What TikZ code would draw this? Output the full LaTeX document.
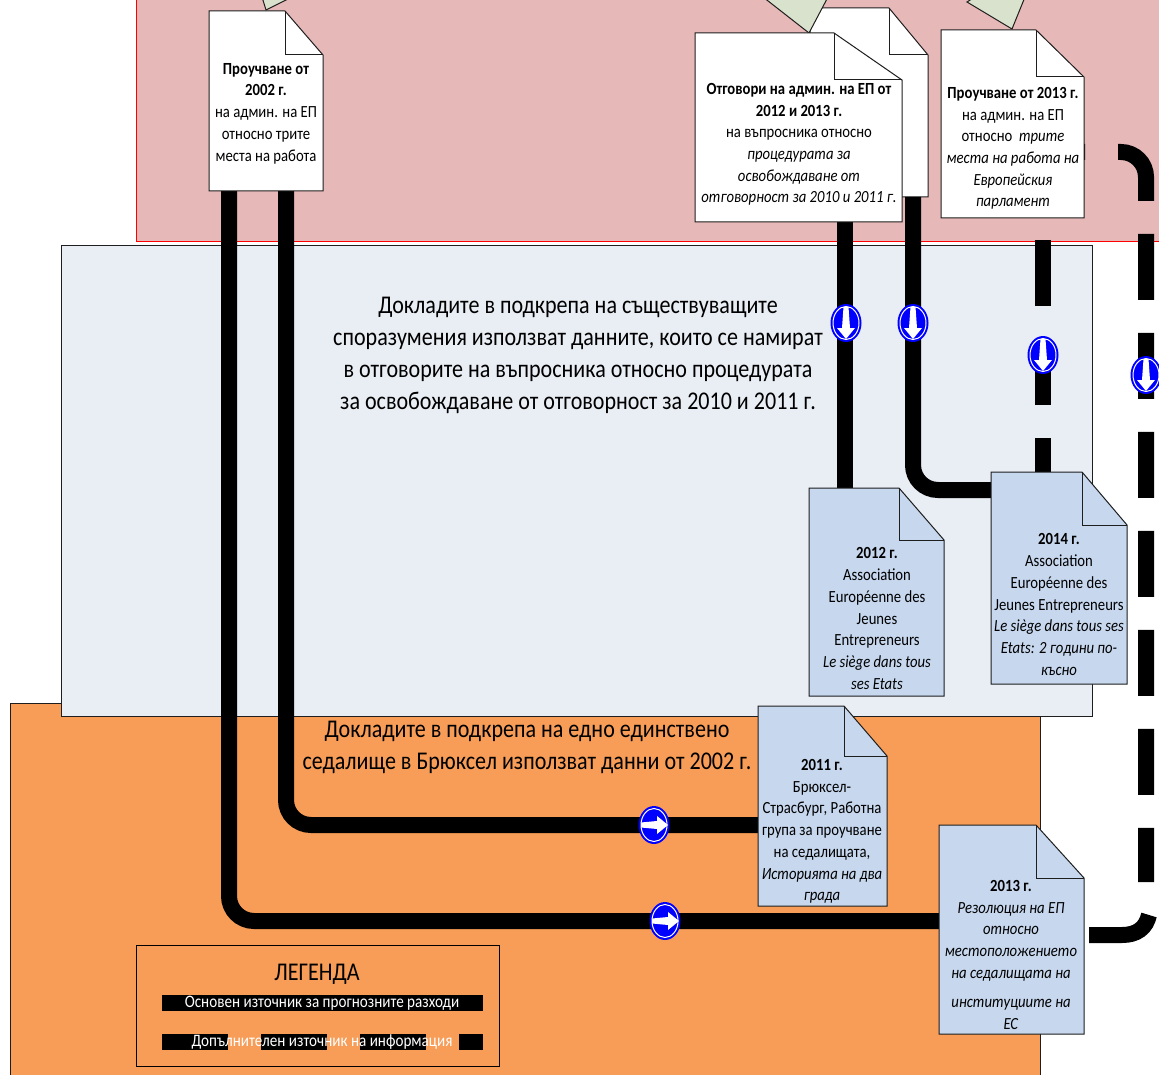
\documentclass[tikz,border=0pt]{standalone}
\usepackage{fontspec}
\setmainfont[FakeStretch=0.865]{Carlito}
\usetikzlibrary{shapes.geometric,calc}
\definecolor{pinkbg}{HTML}{E6B8B7}
\definecolor{bluebg}{HTML}{E9EDF4}
\definecolor{orangebg}{HTML}{F79D58}
\definecolor{docblue}{HTML}{C6D7EE}
\definecolor{foldgreen}{HTML}{D9E2CC}
\definecolor{edgedark}{HTML}{1E1E1E}
\tikzset{
  band/.style={line width=1pt},
  docedge/.style={draw=edgedark,line width=1pt,line join=miter},
  doctext/.style={align=center,inner sep=0pt,text=black,font=\fontsize{17}{21.7}\selectfont},
  headtext/.style={align=center,inner sep=0pt,text=black,font=\fontsize{25.5}{32}\selectfont},
  legendtext/.style={align=center,inner sep=0pt,text=white,font=\fontsize{17.5}{20}\selectfont},
  conn/.style={line width=16pt,draw=black,rounded corners=25pt},
  dashconn/.style={conn,dash pattern=on 66pt off 33pt},
  legendbar/.style={line width=16pt,draw=black},
}
% name, left, top, right, bottom, fold x, fold y, fill
\newcommand{\docsheet}[8]{%
  \node[minimum width=#4pt-#2pt,minimum height=#5pt-#3pt,inner sep=0pt,outer sep=0pt] (#1) at ({(#2+#4)/2},{(#3+#5)/2}) {};
  \draw[docedge,fill=#8] (#2,#3) -- (#6,#3) -- (#4,#7) -- (#4,#5) -- (#2,#5) -- cycle;
  \draw[docedge] (#6,#3) -- (#6,#7) -- (#4,#7);
}
% name, x, y
\newcommand{\signdisc}[3]{%
  \fill[blue] (#2,#3) ellipse [x radius=15.5pt,y radius=19pt];
  \draw[white,line width=1pt] (#2,#3) ellipse [x radius=13pt,y radius=16.5pt];
  \coordinate (#1) at (#2,#3);
}
\newcommand{\signdown}[3]{%
  \signdisc{#1}{#2}{#3}
  \fill[white] ($(#2,#3)+(-2.5,-16)$) -- ($(#2,#3)+(2.5,-16)$) -- ($(#2,#3)+(4,5)$) -- ($(#2,#3)+(9,5)$) -- ($(#2,#3)+(0,16)$) -- ($(#2,#3)+(-9,5)$) -- ($(#2,#3)+(-4,5)$) -- cycle;
}
\newcommand{\signright}[3]{%
  \signdisc{#1}{#2}{#3}
  \fill[white] ($(#2,#3)+(-13,-2.5)$) -- ($(#2,#3)+(3,-4)$) -- ($(#2,#3)+(3,-9)$) -- ($(#2,#3)+(14,0)$) -- ($(#2,#3)+(3,9)$) -- ($(#2,#3)+(3,4)$) -- ($(#2,#3)+(-13,2.5)$) -- cycle;
}
\begin{document}
\begin{tikzpicture}[x=1pt,y=-1pt]
\useasboundingbox (0,0) rectangle (1159,1075);
\clip (0,0) rectangle (1159,1075);
\fill[white] (0,0) rectangle (1159,1075);
% bands
\draw[band,draw=red,fill=pinkbg] (136,-5) rectangle (1170,242);
\draw[band,draw=edgedark,fill=orangebg] (10,703) rectangle (1040,1085);
\draw[band,draw=edgedark,fill=bluebg] (61,246) rectangle (1092,716);
% way points
\coordinate (k1) at (229,921);
\coordinate (k2) at (286,825);
\coordinate (k4) at (913,490);
\coordinate (k5) at (1043,240);
\coordinate (k6) at (1146,152);
\coordinate (k6s) at (1019,152);
\coordinate (k6e) at (1146,882);
\coordinate (k7e) at (1149,915);
\coordinate (k7s) at (1089,935);
% back sheets and tabs
\docsheet{dback}{810}{8}{928}{197}{889}{55}{white}
\draw[docedge,fill=foldgreen] (262,-3) -- (266,10) -- (292,-3) -- cycle;
\draw[docedge,fill=foldgreen] (763,-3) -- (809,33) -- (828,-3) -- cycle;
\draw[docedge,fill=foldgreen] (967,2) -- (1012,29) -- (1025,-3) -- (975,-3) -- cycle;
% connectors (under the sheets)
\draw[conn] (k1 |- 0,191) -- (k1) -- (939,921);
\draw[conn] (k2 |- 0,191) -- (k2) -- (758,825);
\draw[conn] (845,222) -- (845,488);
\draw[conn] (913,197) -- (k4) -- (991,490);
\draw[dashconn] (k5) -- (1043,472);
\draw[dashconn] (k6s) -- (k6) -- (k6e);
\draw[line width=16pt,draw=black] (k7s) -- (1122,935) .. controls (1137,935) and (1146,928) .. (k7e);
% sheets
\docsheet{dA}{209}{11}{323}{191}{285}{55}{white}
\docsheet{dF}{695}{33}{902}{222}{834}{80}{white}
\docsheet{dC}{941}{30}{1084}{218}{1036}{77}{white}
\docsheet{dD}{809}{488}{944}{696}{899}{540}{docblue}
\docsheet{dE}{991}{472}{1127}{684}{1082}{525}{docblue}
\docsheet{dG}{758}{706}{887}{906}{844}{756}{docblue}
\docsheet{dH}{939}{825}{1084}{1034}{1036}{878}{docblue}
% texts
\node[doctext] (tA) at (266,113.5) {\textbf{Проучване от}\\\textbf{2002 г.}\\на админ. на ЕП\\относно трите\\места на работа};
\node[doctext] (tF) at (799,144.5) {\textbf{Отговори на админ. на ЕП от}\\\textbf{2012 и 2013 г.}\\на въпросника относно\\\textit{процедурата за}\\\textit{освобождаване от}\\\textit{отговорност за 2010 и 2011 г.}};
\node[doctext] (tC) at (1013,148.5) {\textbf{Проучване от 2013 г.}\\на админ. на ЕП\\относно\ \ \textit{трите}\\\textit{места на работа на}\\\textit{Европейския}\\\textit{парламент}};
\node[doctext] (tD) at (877,618.5) {\textbf{2012 г.}\\Association\\Européenne des\\Jeunes\\Entrepreneurs\\\textit{Le siège dans tous}\\\textit{ses Etats}};
\node[doctext] (tE) at (1059,604.5) {\textbf{2014 г.}\\Association\\Européenne des\\Jeunes Entrepreneurs\\\textit{Le siège dans tous ses}\\\textit{Etats: 2 години по-}\\\textit{късно}};
\node[doctext] (tG) at (822,831.5) {\textbf{2011 г.}\\Брюксел-\\Страсбург, Работна\\група за проучване\\на седалищата,\\\textit{Историята на два}\\\textit{града}};
\node[doctext] (tH) at (1011,955) {\textbf{2013 г.}\\\textit{Резолюция на ЕП}\\\textit{относно}\\\textit{местоположението}\\\textit{на седалищата на}\\[8pt]\textit{институциите на}\\\textit{ЕС}};
\node[headtext] (h1) at (578,355.5) {Докладите в подкрепа на съществуващите\\споразумения използват данните, които се намират\\в отговорите на въпросника относно процедурата\\за освобождаване от отговорност за 2010 и 2011 г.};
\node[headtext] (h2) at (527,747) {Докладите в подкрепа на едно единствено\\седалище в Брюксел използват данни от 2002 г.};
% signs
\signdown{s1}{846}{323}
\signdown{s2}{913}{323}
\signdown{s3}{1043}{355}
\signdown{s4}{1146}{375}
\signright{s5}{654}{825}
\signright{s6}{665}{921}
% legend
\draw[band,draw=black] (136,945) rectangle (499,1066);
\node[headtext] (lg) at (317,974) {ЛЕГЕНДА};
\coordinate (b1s) at (162,1003);
\coordinate (b1e) at (483,1003);
\coordinate (b2s) at (162,1042);
\coordinate (b2e) at (483,1042);
\draw[legendbar] (b1s) -- (b1e);
\draw[legendbar,dash pattern=on 66pt off 33pt] (b2s) -- (b2e);
\node[legendtext] (l1) at (322,1003.5) {Основен източник за прогнозните разходи};
\node[legendtext] (l2) at (322,1042.5) {Допълнителен източник на информация};
\end{tikzpicture}
\end{document}
